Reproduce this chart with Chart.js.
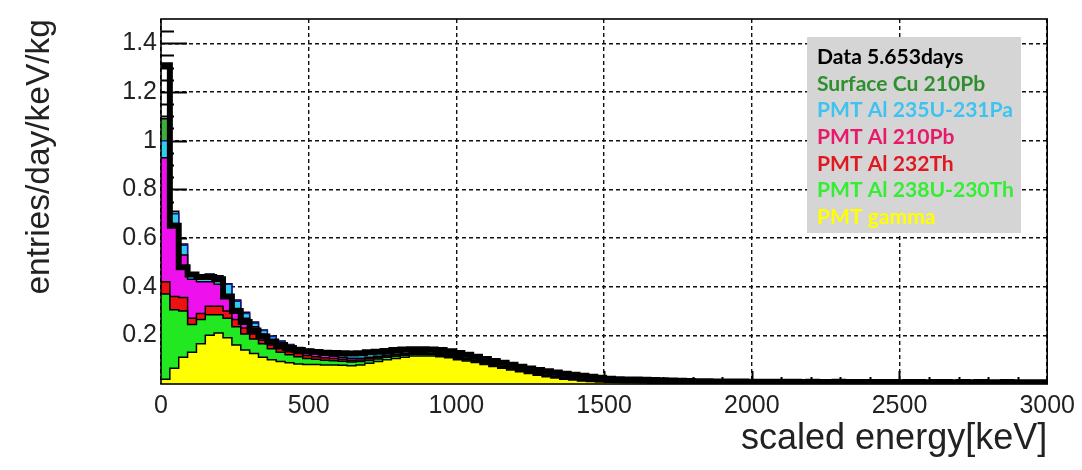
<!DOCTYPE html>
<html><head><meta charset="utf-8">
<script src="https://cdn.jsdelivr.net/npm/chart.js@4.4.0/dist/chart.umd.min.js"></script>
<style>html,body{margin:0;padding:0;background:#fff;}#wrap{width:1082px;height:470px;position:relative;}</style>
</head><body><div id="wrap"><canvas id="c" width="1082" height="470"></canvas></div>
<script>
// ---- data (entries/day/keV/kg per 30 keV bin, 0-3000 keV) ----
const binWidthKeV = 30;
const nBins = 100;
const xTickValues = [0, 500, 1000, 1500, 2000, 2500, 3000];
const xTickLabels = ['0', '500', '1000', '1500', '2000', '2500', '3000'];
const yTickValues = [0.2, 0.4, 0.6, 0.8, 1, 1.2, 1.4];
const yTickLabels = ['0.2', '0.4', '0.6', '0.8', '1', '1.2', '1.4'];
const legendLabels = ['Data 5.653days', 'Surface Cu 210Pb', 'PMT Al 235U-231Pa', 'PMT Al 210Pb', 'PMT Al 232Th', 'PMT Al 238U-230Th', 'PMT gamma'];

const dataCounts = [
 1.31,.65,.48,.45,.44,.44,.43,.36,.30,.255,
 .22,.195,.175,.16,.148,.14,.135,.132,.128,.127,
 .126,.125,.126,.13,.133,.136,.14,.142,.143,.143,
 .142,.14,.135,.127,.12,.112,.103,.095,.087,.079,
 .071,.064,.058,.052,.047,.042,.038,.034,.030,.026,
 .022,.020,.019,.018,.017,.016,.015,.014,.013,.012,
 .011,.011,.010,.010,.010,.010,.009,.009,.009,.009,
 .009,.009,.008,.009,.008,.008,.009,.008,.008,.008,
 .008,.008,.008,.007,.008,.008,.007,.008,.008,.007,
 .008,.007,.008,.007,.007,.008,.007,.007,.007,.007];
const pmtGamma = [
 .020,.065,.110,.130,.165,.200,.210,.190,.160,.140,
 .125,.110,.100,.092,.087,.082,.080,.080,.078,.078,
 .077,.075,.078,.085,.092,.100,.105,.110,.115,.115,
 .115,.112,.108,.100,.095,.088,.080,.072,.065,.058,
 .050,.043,.036,.030,.025,.020,.016,.012,.010,.008,
 .007,.006,.005,.005,.004,.003,.003,.002,.001,0,
 0,0,0,0,0,0,0,0,0,0, 0,0,0,0,0,0,0,0,0,0,
 0,0,0,0,0,0,0,0,0,0, 0,0,0,0,0,0,0,0,0,0];
const al238U = [
 .350,.240,.190,.115,.100,.085,.075,.080,.075,.065,
 .060,.055,.045,.038,.033,.030,.025,.022,.020,.018,
 .017,.015,.014,.012,.011,.010,.009,.008,.007,.007,
 .006,.006,.006,.006,.005,.005,.005,.005,.004,.004,
 .004,.004,.004,.004,.003,.003,.003,.003,.002,.002,
 .002,.002,.002,.001,.001,.002,.001,.002,.002,.002,
 .002,.001,.001,.001,.001,.001,.001,.001,.001,.001,
 .001,.001,.001,.001,.001,.001,.001,.001,.001,.001,
 .0005,.0005,.0005,.0005,.0005,.0005,.0005,.0005,.0005,.0005,
 .0005,.0005,.0005,.0005,.0005,.0005,.0005,.0005,.0005,.0005];
const al232Th = [
 .050,.055,.055,.025,.025,.035,.035,.030,.030,.025,
 .020,.015,.015,.015,.013,.013,.012,.010,.010,.009,
 .008,.008,.007,.007,.006,.005,.005,.004,.004,.003,
 .003,.003,.003,.003,.003,.003,.003,.002,.002,.002,
 .002,.002,.002,.001,.001,.001,.001,.001,.001,.001,
 .001,.001,.001,.001,.001,.001,.001,.001,.001,.001,
 .0005,.0005,.0005,.0005,.0005,.0005,.0005,.0005,.0005,.0005,
 .0005,.0005,.0005,.0005,.0005,.0005,.0005,.0005,.0005,.0005,
 .0005,.0005,.0005,.0005,.0005,.0005,.0005,.0005,.0005,.0005,
 .0005,.0005,.0005,.0005,.0005,.0005,.0005,.0005,.0005,.0005];
const al210Pb = [
 .510,.300,.175,.160,.130,.100,.090,.060,.045,.040,
 .030,.025,.020,.017,.015,.013,.013,.011,.010,.009,
 .008,.008,.007,.006,.005,.004,.004,.004,.003,.003,
 .003,.003,.003,.003,.003,.003,.002,.002,.002,.002,
 .002,.002,.002,.002,.002,.002,.001,.001,.001,.001,
 .001,.001,.001,.001,.001,.001,.001,.001,.001,.001,
 .0005,.0005,.0005,.0005,.0005,.0005,.0005,.0005,.0005,.0005,
 .0005,.0005,.0005,.0005,.0005,.0005,.0005,.0005,.0005,.0005,
 .0005,.0005,.0005,.0005,.0005,.0005,.0005,.0005,.0005,.0005,
 .0005,.0005,.0005,.0005,.0005,.0005,.0005,.0005,.0005,.0005];
const al235U = [
 .070,.040,.040,.015,.010,.030,.030,.050,.030,.020,
 .015,.015,.015,.013,.012,.010,.010,.012,.012,.013,
 .015,.016,.016,.016,.016,.014,.014,.013,.012,.012,
 .011,.010,.009,.009,.008,.007,.008,.008,.007,.006,
 .006,.005,.005,.005,.005,.004,.004,.004,.004,.003,
 .002,.002,.002,.002,.002,.002,.002,.002,.002,.002,
 .001,.001,.001,.001,.001,.001,.001,.001,.001,.001,
 .001,.001,.001,.001,.001,.001,.001,.001,.001,.001,
 .001,.001,.001,.001,.001,.001,.001,.001,.001,.001,
 .001,.001,.001,.001,.001,.001,.001,.001,.001,.001];
const surfCu210Pb = [
 .090,.010,.005,.003,.005,.002,.005,.002,.005,.005,
 .005,.002,.002,.002,.002,.002,.002,.002,.002,.002,
 .002,.002,.002,.002,.002,.002,.002,.002,.002,.002,
 .002,.002,.002,.002,.002,.002,.002,.001,.001,.001,
 .001,.001,.001,.001,.001,.001,.001,.001,.001,.001,
 .0005,.0005,.0005,.0005,.0005,.0005,.0005,.0005,.0005,.0005,
 0,0,0,0,0,0,0,0,0,0, 0,0,0,0,0,0,0,0,0,0,
 0,0,0,0,0,0,0,0,0,0, 0,0,0,0,0,0,0,0,0,0];

// ---- build histogram step points from bin edges ----
const binEdges = Array.from({length: nBins + 1}, (_, i) => i * binWidthKeV);
function steps(vals) {
  const pts = vals.map((v, i) => ({x: binEdges[i], y: v}));
  pts.push({x: binEdges[nBins], y: vals[nBins - 1]});
  return pts;
}

const legendColors = ['#000000', '#2f8f2f', '#3ec3f0', '#e8196a', '#e01820', '#33ee33', '#ffff00'];
const TICK_FONT = {family: '"Liberation Sans", Arial, sans-serif', size: 25};

function mc(label, vals, fillColor, fill, border) {
  return {label, data: steps(vals), stepped: true, fill, backgroundColor: fillColor,
    borderColor: border || '#000', borderWidth: 1.5, pointRadius: 0, stack: 'mc',
    borderJoinStyle: 'miter', borderCapStyle: 'butt'};
}

const rootAxes = {
  id: 'rootAxes',
  beforeDatasetsDraw(chart) {
    const {ctx, chartArea: a, scales: {x, y}} = chart;
    ctx.save();
    ctx.strokeStyle = '#000';
    ctx.lineWidth = 2;
    ctx.beginPath();
    for (let k = 1; k < 30; k++) {
      const v = k * 0.05;
      const major = k % 4 === 0;
      const py = Math.round(y.getPixelForValue(v)) + 0.5;
      ctx.moveTo(a.left, py); ctx.lineTo(a.left + (major ? 26 : 13), py);
    }
    for (let k = 1; k < 30; k++) {
      const v = k * 100;
      const major = k % 5 === 0;
      const px = Math.round(x.getPixelForValue(v)) + 0.5;
      ctx.moveTo(px, a.bottom); ctx.lineTo(px, a.bottom - (major ? 13 : 7));
    }
    ctx.stroke();
    ctx.restore();
  },
  afterDatasetsDraw(chart) {
    const {ctx, chartArea: a} = chart;
    ctx.save();
    ctx.strokeStyle = '#000';
    ctx.lineWidth = 1.6;
    ctx.strokeRect(a.left, a.top, a.right - a.left, a.bottom - a.top);
    ctx.restore();
  },
  afterDraw(chart) {
    const ctx = chart.ctx;
    const bx = 807, by = 37, bw = 214, bh = 196;
    ctx.save();
    ctx.fillStyle = '#d5d5d5';
    ctx.fillRect(bx, by, bw, bh);
    const fam = 'Lato, "Open Sans", sans-serif';
    ctx.font = 'bold 20px ' + fam;
    const w = ctx.measureText('PMT Al 235U-231Pa').width;
    const size = 20 * 196 / w;
    ctx.font = 'bold ' + size.toFixed(2) + 'px ' + fam;
    ctx.textBaseline = 'middle';
    ctx.textAlign = 'left';
    legendLabels.forEach((t, i) => {
      ctx.fillStyle = legendColors[i];
      ctx.fillText(t, bx + 10, by + 20 + i * 26.7);
    });
    ctx.restore();
  }
};

new Chart(document.getElementById('c'), {
  type: 'line',
  data: {
    datasets: [
      {label: legendLabels[0], data: steps(dataCounts), stepped: true, fill: false,
       borderColor: '#000', borderWidth: 6, pointRadius: 0, stack: 'data',
       borderJoinStyle: 'miter', borderCapStyle: 'butt'},
      mc(legendLabels[6], pmtGamma, '#ffff00', 'origin'),
      mc(legendLabels[5], al238U, '#22e822', '-1'),
      mc(legendLabels[4], al232Th, '#ee1111', '-1'),
      mc(legendLabels[3], al210Pb, '#ee11ee', '-1'),
      mc(legendLabels[2], al235U, '#33ccee', '-1', '#16169a'),
      mc(legendLabels[1], surfCu210Pb, '#3fae3f', '-1')
    ]
  },
  options: {
    responsive: false,
    animation: false,
    devicePixelRatio: 1,
    layout: {padding: {left: 0, right: 32, top: 18, bottom: 0}},
    plugins: {legend: {display: false}, tooltip: {enabled: false}},
    scales: {
      x: {
        type: 'linear', min: 0, max: 3000,
        afterBuildTicks: s => { s.ticks = xTickValues.map(v => ({value: v})); },
        afterFit: s => { s.height = 86; },
        ticks: {callback: (v, i) => xTickLabels[i], font: TICK_FONT, color: '#222', padding: 7, maxRotation: 0, autoSkip: false},
        grid: {color: '#111', lineWidth: 1.4, drawTicks: false},
        border: {display: false, dash: [4, 3]},
        title: {display: true, text: 'scaled energy[keV]', align: 'end', color: '#222',
                font: {family: '"Liberation Sans", Arial, sans-serif', size: 36}, padding: {top: 0, bottom: 9}}
      },
      y: {
        type: 'linear', min: 0, max: 1.5, stacked: true,
        afterBuildTicks: s => { s.ticks = yTickValues.map(v => ({value: v})); },
        afterFit: s => { s.width = 161; },
        ticks: {callback: (v, i) => yTickLabels[i], font: TICK_FONT, color: '#222', padding: 4, autoSkip: false},
        grid: {color: '#111', lineWidth: 1.4, drawTicks: false},
        border: {display: false, dash: [4, 3]},
        title: {display: true, text: 'entries/day/keV/kg', align: 'end', color: '#222',
                font: {family: '"Liberation Sans", Arial, sans-serif', size: 33.5}, padding: {top: 20, bottom: 0}}
      }
    }
  },
  plugins: [rootAxes]
});
</script></body></html>
